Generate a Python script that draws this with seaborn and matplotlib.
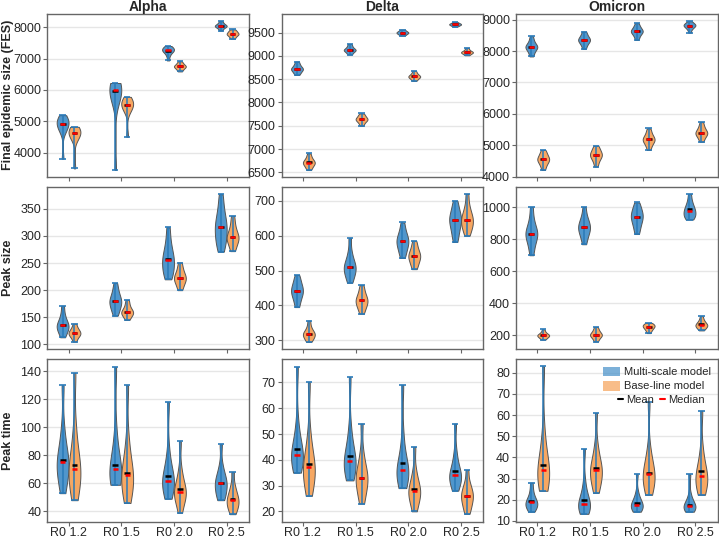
import matplotlib
matplotlib.use("Agg")
import matplotlib.pyplot as plt
from matplotlib.patches import Patch
from matplotlib.lines import Line2D
import numpy as np
import pandas as pd
import seaborn as sns

r0_labels = ['R0 1.2', 'R0 1.5', 'R0 2.0', 'R0 2.5']
models = ['Multi-scale model', 'Base-line model']
variants = ['Alpha', 'Delta', 'Omicron']
metrics = ['Final epidemic size (FES)', 'Peak size', 'Peak time']

# ---- final epidemic size ----
alpha_fes_multi = [[3810, 4650, 4740, 4810, 4880, 4930, 4970, 5010, 5060, 5120, 5196],
                   [3450, 5600, 5720, 5840, 5940, 6010, 6050, 6090, 6130, 6180, 6220],
                   [6940, 7080, 7160, 7210, 7240, 7260, 7280, 7310, 7340, 7370, 7400],
                   [7890, 7950, 7990, 8010, 8030, 8040, 8055, 8075, 8100, 8140, 8190]]
alpha_fes_base = [[3500, 4400, 4480, 4540, 4600, 4635, 4670, 4700, 4740, 4780, 4825],
                  [4510, 5280, 5370, 5440, 5490, 5535, 5570, 5610, 5660, 5720, 5780],
                  [6590, 6640, 6680, 6710, 6735, 6750, 6765, 6790, 6820, 6860, 6910],
                  [7630, 7680, 7720, 7750, 7770, 7788, 7805, 7830, 7860, 7890, 7926]]
alpha_fes_multi_mean = [4910, 5980, 7255, 8040]
alpha_fes_base_mean = [4620, 5520, 6750, 7785]

delta_fes_multi = [[8590, 8630, 8660, 8690, 8710, 8720, 8735, 8760, 8790, 8830, 8880],
                   [9030, 9060, 9090, 9110, 9120, 9130, 9140, 9160, 9185, 9220, 9257],
                   [9436, 9455, 9470, 9482, 9492, 9500, 9508, 9518, 9530, 9545, 9564],
                   [9629, 9645, 9656, 9665, 9672, 9679, 9686, 9693, 9702, 9714, 9729]]
delta_fes_base = [[6550, 6600, 6640, 6670, 6695, 6710, 6730, 6755, 6790, 6840, 6907],
                  [7500, 7550, 7585, 7610, 7628, 7640, 7655, 7675, 7700, 7730, 7764],
                  [8464, 8495, 8520, 8538, 8550, 8560, 8572, 8588, 8610, 8640, 8679],
                  [9014, 9035, 9052, 9064, 9073, 9080, 9088, 9100, 9115, 9140, 9171]]
delta_fes_multi_mean = [8718, 9130, 9498, 9678]
delta_fes_base_mean = [6712, 7640, 8560, 9080]

omicron_fes_multi = [[7827, 7930, 8010, 8070, 8105, 8130, 8160, 8200, 8260, 8350, 8471],
                     [8070, 8170, 8240, 8290, 8325, 8355, 8385, 8420, 8470, 8540, 8619],
                     [8355, 8450, 8520, 8570, 8605, 8630, 8655, 8690, 8740, 8800, 8884],
                     [8588, 8680, 8730, 8765, 8790, 8810, 8828, 8848, 8870, 8900, 8947]]
omicron_fes_base = [[4211, 4330, 4410, 4470, 4515, 4550, 4585, 4630, 4690, 4760, 4846],
                    [4317, 4450, 4540, 4600, 4650, 4690, 4725, 4770, 4830, 4900, 4983],
                    [4846, 4970, 5050, 5110, 5150, 5185, 5220, 5265, 5330, 5420, 5533],
                    [5110, 5210, 5280, 5330, 5365, 5395, 5430, 5475, 5540, 5620, 5734]]
omicron_fes_multi_mean = [8135, 8355, 8630, 8805]
omicron_fes_base_mean = [4555, 4690, 5190, 5400]

# ---- peak size ----
alpha_peak_multi = [[113, 120, 125, 129, 132, 135, 138, 142, 148, 157, 171],
                    [153, 161, 167, 172, 176, 180, 183, 188, 194, 202, 213],
                    [220, 228, 236, 243, 250, 256, 262, 270, 280, 295, 316],
                    [271, 282, 292, 300, 308, 316, 323, 331, 342, 357, 377]]
alpha_peak_base = [[105, 111, 115, 117, 119, 121, 123, 125, 128, 132, 138],
                   [145, 150, 154, 156, 158, 160, 162, 165, 169, 175, 182],
                   [200, 207, 213, 217, 220, 223, 226, 230, 235, 242, 251],
                   [272, 280, 287, 292, 295, 298, 302, 307, 314, 324, 337]]
alpha_peak_multi_mean = [135, 180, 257, 316]
alpha_peak_base_mean = [121, 160, 223, 298]

delta_peak_multi = [[395, 410, 421, 430, 436, 442, 448, 455, 463, 474, 487],
                    [465, 478, 489, 497, 504, 510, 516, 524, 536, 556, 593],
                    [536, 550, 561, 570, 577, 584, 590, 597, 606, 619, 638],
                    [582, 600, 614, 626, 636, 644, 651, 659, 669, 683, 700]]
delta_peak_base = [[295, 302, 307, 311, 315, 318, 321, 325, 331, 341, 356],
                   [376, 388, 397, 403, 409, 414, 419, 425, 433, 444, 458],
                   [504, 515, 524, 531, 537, 542, 547, 553, 561, 572, 585],
                   [600, 614, 624, 632, 639, 646, 653, 661, 672, 690, 720]]
delta_peak_multi_mean = [442, 511, 585, 644]
delta_peak_base_mean = [318, 415, 542, 646]

omicron_peak_multi = [[700, 745, 780, 805, 822, 835, 848, 866, 893, 935, 1002],
                      [769, 805, 830, 848, 863, 876, 889, 904, 924, 953, 1002],
                      [833, 865, 890, 910, 926, 940, 953, 967, 984, 1004, 1031],
                      [924, 935, 946, 957, 968, 979, 990, 1003, 1020, 1045, 1083]]
omicron_peak_base = [[171, 180, 186, 191, 195, 198, 201, 205, 211, 220, 235],
                     [159, 174, 185, 192, 198, 202, 207, 214, 223, 235, 250],
                     [212, 225, 234, 241, 247, 252, 256, 260, 265, 270, 276],
                     [229, 240, 248, 254, 259, 264, 269, 276, 285, 298, 318]]
omicron_peak_multi_mean = [836, 877, 941, 992]
omicron_peak_base_mean = [199, 203, 252, 266]

# ---- peak time ----
alpha_time_multi = [[53, 60, 65, 69, 72, 75, 78, 82, 88, 100, 130],
                    [59, 60, 62, 65, 67, 70, 73, 77, 83, 96, 143],
                    [49, 53, 56, 59, 61, 62, 64, 67, 72, 82, 118],
                    [48, 50, 53, 56, 58, 60, 62, 64, 67, 73, 88]]
alpha_time_base = [[48, 55, 60, 64, 67, 70, 74, 79, 86, 100, 139],
                   [46, 52, 56, 60, 63, 66, 69, 73, 80, 92, 130],
                   [39, 45, 49, 51, 53, 54, 56, 59, 63, 70, 90],
                   [38, 41, 43, 45, 47, 48, 50, 52, 55, 59, 68]]
alpha_time_multi_mean = [76.8, 73.3, 65.0, 60.5]
alpha_time_base_mean = [73.0, 67.4, 56.0, 48.7]

delta_time_multi = [[35, 37, 39, 40, 41, 42, 43.5, 45, 48, 54, 76],
                    [32, 34, 36, 37.5, 38.5, 39.5, 41, 43, 46, 52, 72],
                    [29, 31, 33, 34, 35, 36, 37, 39, 42, 49, 69],
                    [28, 30, 31.5, 32.5, 33.5, 34, 35, 36.5, 39, 43, 54]]
delta_time_base = [[26, 29, 32, 34, 35.5, 37, 38.5, 40.5, 44, 50, 70],
                   [23, 26, 28.5, 30.5, 32, 33, 34.5, 36, 38.5, 43, 54],
                   [20, 22.5, 24.5, 26, 27, 28, 29, 30.5, 32.5, 36, 45],
                   [19, 21, 22.5, 24, 25, 26, 27, 28, 29.5, 31.5, 36]]
delta_time_multi_mean = [44.3, 41.4, 38.7, 35.8]
delta_time_base_mean = [38.3, 33.0, 28.8, 26.0]

omicron_time_multi = [[14.3, 15.5, 16.5, 17.3, 18, 18.7, 19.5, 20.5, 22, 24.5, 28],
                      [13.3, 14.5, 15.5, 16.5, 17.3, 18, 19, 20.5, 23, 28, 44],
                      [14.3, 15, 15.8, 16.5, 17.1, 17.7, 18.4, 19.3, 20.7, 23.5, 32],
                      [14.3, 14.9, 15.5, 16.1, 16.6, 17.1, 17.7, 18.5, 19.8, 22.5, 32]]
omicron_time_base = [[24.2, 26.5, 28.5, 30.5, 32.5, 34, 36, 39, 43, 52, 83],
                     [23.2, 26.5, 29, 31, 32.7, 34.1, 35.5, 37.5, 40.5, 46, 61],
                     [22.3, 25, 27, 29, 30.6, 32, 33.5, 35.5, 38.5, 44, 66],
                     [22.3, 24.5, 26.5, 28.3, 29.8, 31.2, 32.7, 34.7, 38, 44, 62]]
omicron_time_multi_mean = [19.6, 19.8, 18.5, 17.7]
omicron_time_base_mean = [36.6, 34.9, 32.7, 33.4]

panels = [
    [(alpha_fes_multi, alpha_fes_base, alpha_fes_multi_mean, alpha_fes_base_mean),
     (delta_fes_multi, delta_fes_base, delta_fes_multi_mean, delta_fes_base_mean),
     (omicron_fes_multi, omicron_fes_base, omicron_fes_multi_mean, omicron_fes_base_mean)],
    [(alpha_peak_multi, alpha_peak_base, alpha_peak_multi_mean, alpha_peak_base_mean),
     (delta_peak_multi, delta_peak_base, delta_peak_multi_mean, delta_peak_base_mean),
     (omicron_peak_multi, omicron_peak_base, omicron_peak_multi_mean, omicron_peak_base_mean)],
    [(alpha_time_multi, alpha_time_base, alpha_time_multi_mean, alpha_time_base_mean),
     (delta_time_multi, delta_time_base, delta_time_multi_mean, delta_time_base_mean),
     (omicron_time_multi, omicron_time_base, omicron_time_multi_mean, omicron_time_base_mean)],
]

# axis limits / ticks per panel
ylims = [[(3240, 8420), (6410, 9900), (4000, 9180)],
         [(91, 391), (274, 741), (111, 1130)],
         [(32.5, 148.7), (15.9, 79), (9.5, 86.4)]]
yticks = [[range(4000, 8001, 1000), range(6500, 9501, 500), range(4000, 9001, 1000)],
          [range(100, 351, 50), range(300, 701, 100), range(200, 1001, 200)],
          [range(40, 141, 20), range(20, 71, 10), range(10, 81, 10)]]

blue = '#5096cc'
orange = '#f6a762'
whisker = '#2a7ab8'
vwidth = 0.45

sns.set_theme(style='white')
plt.rcParams['font.family'] = ['Liberation Sans', 'DejaVu Sans']

fig, axes = plt.subplots(3, 3, figsize=(7.19, 5.38), dpi=100)
fig.subplots_adjust(left=0.066, right=0.998, bottom=0.03, top=0.974, wspace=0.164, hspace=0.062)


def draw_panel(ax, multi, base, multi_mean, base_mean):
    rows = []
    for model, groups in zip(models, [multi, base]):
        for lab, vals in zip(r0_labels, groups):
            for v in vals:
                rows.append((lab, model, v))
    df = pd.DataFrame(rows, columns=['R0', 'model', 'value'])
    sns.violinplot(data=df, x='R0', y='value', hue='model', order=r0_labels, hue_order=models,
                   palette=[blue, orange], width=vwidth, cut=0, inner=None, density_norm='width',
                   bw_adjust=0.75, linewidth=0.7, linecolor='#555555', saturation=1,
                   legend=False, ax=ax)
    for k, (groups, means) in enumerate([(multi, multi_mean), (base, base_mean)]):
        off = (k - 0.5) * vwidth / 2
        for i, vals in enumerate(groups):
            x = i + off
            lo, hi, med = min(vals), max(vals), np.median(vals)
            ax.vlines(x, lo, hi, color=whisker, lw=1.1, zorder=4)
            ax.hlines([lo, hi], x - 0.06, x + 0.06, color=whisker, lw=1.4, alpha=0.85, zorder=4)
            ax.hlines(means[i], x - 0.055, x + 0.055, color='black', lw=1.8, zorder=5)
            ax.hlines(med, x - 0.05, x + 0.05, color='red', lw=1.8, zorder=6)


for r in range(3):
    for c in range(3):
        ax = axes[r, c]
        draw_panel(ax, *panels[r][c])
        ax.set_xlim(-0.4, 3.42)
        ax.set_ylim(*ylims[r][c])
        ax.set_yticks(list(yticks[r][c]))
        ax.yaxis.grid(True, color='#e6e6e6', lw=1)
        ax.set_axisbelow(True)
        ax.set_xlabel('')
        ax.set_ylabel('')
        for s in ax.spines.values():
            s.set_color('#666666')
            s.set_linewidth(1)
        ax.tick_params(axis='both', length=3, width=0.8, color='#666666',
                       left=True, bottom=True)
        ax.tick_params(axis='y', labelsize=9, pad=1.5)
        ax.tick_params(axis='x', labelsize=9, pad=1)
        if r < 2:
            ax.set_xticklabels([])
        if r == 0:
            ax.set_title(variants[c], fontsize=10, fontweight='bold', pad=1.5)
        if c == 0:
            ax.set_ylabel(metrics[r], fontsize=9, fontweight='bold')
            ax.yaxis.set_label_coords(-0.168, 0.5)

# legend in the bottom-right panel
ax = axes[2, 2]
patches = [Patch(facecolor=blue, alpha=0.75, edgecolor='none', label=models[0]),
           Patch(facecolor=orange, alpha=0.75, edgecolor='none', label=models[1])]
leg1 = ax.legend(handles=patches, loc='upper right', bbox_to_anchor=(1.005, 1.0), frameon=False,
                 fontsize=8, handlelength=1.6, handleheight=1.0, handletextpad=0.35,
                 labelspacing=0.3, borderpad=0.15)
ax.add_artist(leg1)
lines = [Line2D([0], [0], color='black', lw=1.5, label='Mean'),
         Line2D([0], [0], color='red', lw=1.5, label='Median')]
ax.legend(handles=lines, loc='center right', bbox_to_anchor=(0.965, 0.75), frameon=False,
          fontsize=8, ncol=2, handlelength=0.45, handletextpad=0.3, columnspacing=0.5,
          borderpad=0)

fig.savefig('out.png', dpi=100)
